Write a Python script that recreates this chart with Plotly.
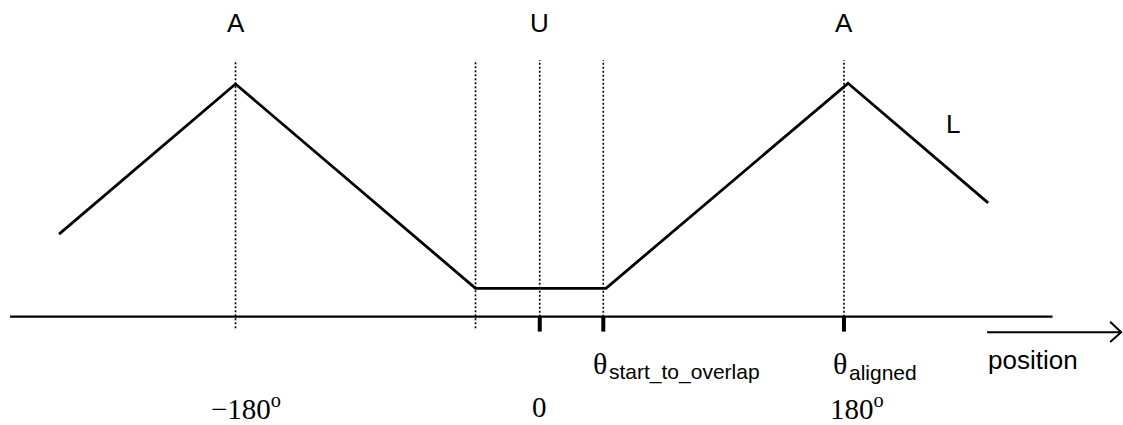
import plotly.graph_objects as go

# potential curve (x in degrees, y in arbitrary units)
curve_x = [-284.4, -180, -38, 39.2, 182.4, 265.3]
curve_y = [0.355, 1.0, 0.122, 0.122, 1.003, 0.489]

# dotted guide lines: x, bottom
guide_x = [-180, -38, 0, 37.6, 180]
guide_bottom = [-0.05, -0.05, 0, 0, 0]
guide_top = 1.103

# thick ticks on the axis
tick_x = [0, 37.6, 180]

axis_x = [-313.4, 303.4]

top_labels = ["A", "U", "A"]
top_label_x = [-180, 0, 180]

deg_labels = ["−180<sup>o</sup>", "0", "180<sup>o</sup>"]
deg_label_x = [-174, 0, 188]

theta_subs = ["start_to_overlap", "aligned"]
theta_x = [35.4, 177.4]

SANS = "Liberation Sans, Arial, sans-serif"
SERIF = "Liberation Serif, Times New Roman, serif"

fig = go.Figure()

for gx, gb in zip(guide_x, guide_bottom):
    fig.add_trace(go.Scatter(
        x=[gx, gx], y=[gb, guide_top], mode="lines",
        line=dict(color="black", width=1.6, dash="2px,2px"), hoverinfo="skip",
    ))

fig.add_trace(go.Scatter(
    x=axis_x, y=[0, 0], mode="lines",
    line=dict(color="black", width=2.2), hoverinfo="skip",
))

for tx in tick_x:
    fig.add_trace(go.Scatter(
        x=[tx, tx], y=[0, -0.064], mode="lines",
        line=dict(color="black", width=4), hoverinfo="skip",
    ))

fig.add_trace(go.Scatter(
    x=curve_x, y=curve_y, mode="lines",
    line=dict(color="black", width=2.8), hoverinfo="skip",
))

# "position" arrow
fig.add_trace(go.Scatter(
    x=[264.7, 344.0], y=[-0.067, -0.067], mode="lines",
    line=dict(color="black", width=2), hoverinfo="skip",
))
fig.add_trace(go.Scatter(
    x=[337.5, 344.0, 337.5], y=[-0.0215, -0.067, -0.1087], mode="lines",
    line=dict(color="black", width=2), hoverinfo="skip",
))

for txt, x in zip(top_labels, top_label_x):
    fig.add_annotation(x=x, y=1.264, text=txt, showarrow=False,
                       font=dict(family=SANS, size=26, color="black"))

fig.add_annotation(x=244.3, y=0.826, text="L", showarrow=False,
                   font=dict(family=SANS, size=26, color="black"))

fig.add_annotation(x=291.9, y=-0.187, text="position", showarrow=False,
                   font=dict(family=SANS, size=26, color="black"))

for sub, x in zip(theta_subs, theta_x):
    fig.add_annotation(x=x, y=-0.203, text="θ", showarrow=False,
                       font=dict(family=SERIF, size=30, color="black"))
    fig.add_annotation(x=x + 4.4, y=-0.238, text=sub, showarrow=False,
                       xanchor="left",
                       font=dict(family=SANS, size=21, color="black"))

for txt, x in zip(deg_labels, deg_label_x):
    fig.add_annotation(x=x, y=-0.388, text=txt, showarrow=False,
                       font=dict(family=SERIF, size=29, color="black"))

fig.update_layout(
    width=1123,
    height=425,
    margin=dict(l=0, r=0, t=0, b=0),
    xaxis=dict(visible=False, range=[-319.35, 345.1]),
    yaxis=dict(visible=False, range=[-0.4654, 1.361]),
    plot_bgcolor="white",
    paper_bgcolor="white",
    showlegend=False,
)

fig.write_html(
    "out.html",
    config={"displayModeBar": False},
    post_script="document.body.style.margin='0';",
)
